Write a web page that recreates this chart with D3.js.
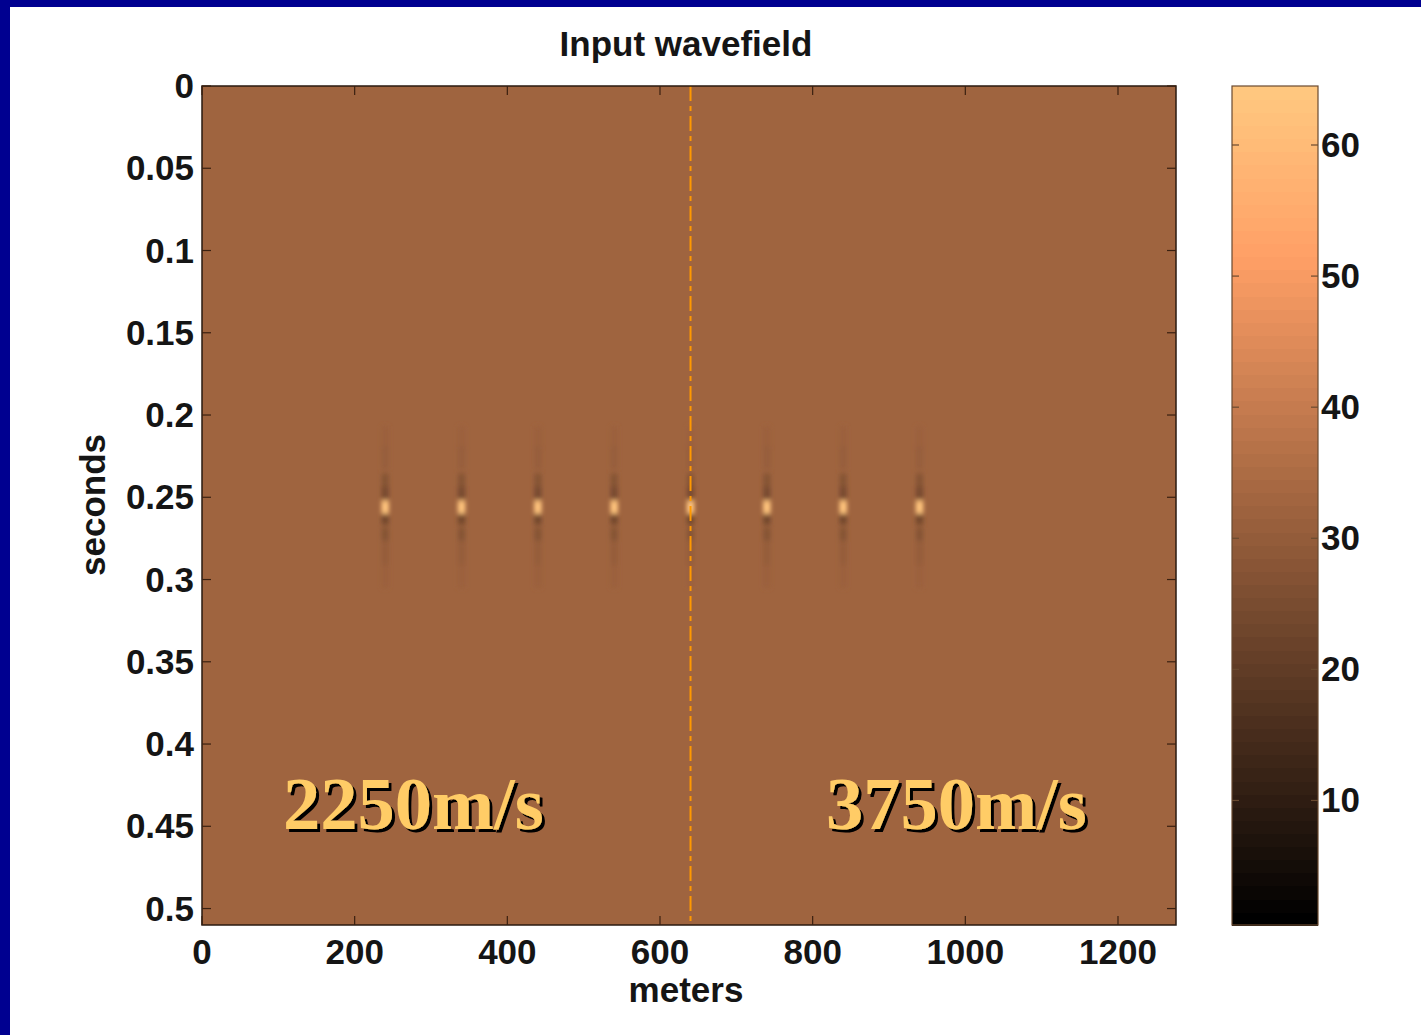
<!DOCTYPE html>
<meta charset="utf-8">
<style>
  body { margin: 0; background: #fff; }
  svg { display: block; }
</style>
<body>
<script src="https://d3js.org/d3.v7.min.js"></script>
<script>
  // axis ticks
  const xTicks = [0, 200, 400, 600, 800, 1000, 1200];
  const yTicks = [0, 0.05, 0.1, 0.15, 0.2, 0.25, 0.3, 0.35, 0.4, 0.45, 0.5];
  const cTicks = [10, 20, 30, 40, 50, 60];

  // receivers where the input spikes sit (meters) and their time (s)
  const spikeX = [240, 340, 440, 540, 640, 740, 840, 940];
  const spikeT = 0.256;
  // wavelet: time offset (s) and colour index
  const waveletDt  = [-0.042, -0.030, -0.0165, -0.0085, 0, 0.0067, 0.0165, 0.028, 0.042];
  const waveletVal = [31.6, 30.8, 27.5, 25, 63, 24, 27.5, 30.5, 31.6];
  const backgroundVal = 32.5;
  const interfaceX = 640;

  // velocity labels
  const velLabels = ["2250m/s", "3750m/s"];
  const velLabelX = [283, 826];

  const W = 1421, H = 1035;
  const plot = {left: 202, top: 86, right: 1176, bottom: 925};

  const svg = d3.select("body").append("svg")
      .attr("width", W).attr("height", H);

  // copper colormap, 64 entries like matlab
  function copper(v) {
    const t = Math.max(0, Math.min(1, (v - 1) / 63));
    return d3.rgb(Math.min(255, 1.25 * t * 255), 0.7812 * t * 255, 0.4975 * t * 255);
  }

  const x = d3.scaleLinear().domain([0, 1276]).range([plot.left, plot.right]);
  const y = d3.scaleLinear().domain([0, 0.51]).range([plot.top, plot.bottom]);

  const defs = svg.append("defs");
  defs.append("filter").attr("id", "soft")
      .attr("x", "-100%").attr("y", "-50%").attr("width", "300%").attr("height", "200%")
    .append("feGaussianBlur").attr("stdDeviation", "2 2.4");
  defs.append("filter").attr("id", "shadow")
      .attr("x", "-5%").attr("y", "-10%").attr("width", "110%").attr("height", "130%")
    .append("feDropShadow").attr("dx", 3).attr("dy", 3).attr("stdDeviation", 0.6)
      .attr("flood-color", "#000").attr("flood-opacity", 1);
  defs.append("clipPath").attr("id", "clip").append("rect")
      .attr("x", plot.left).attr("y", plot.top)
      .attr("width", plot.right - plot.left).attr("height", plot.bottom - plot.top);

  // blue slide border (top and left)
  svg.append("rect").attr("x", 0).attr("y", 0).attr("width", W).attr("height", 7).attr("fill", "#000090");
  svg.append("rect").attr("x", 0).attr("y", 0).attr("width", 10).attr("height", H).attr("fill", "#000090");

  // image
  const img = svg.append("g").attr("clip-path", "url(#clip)");
  img.append("rect")
      .attr("x", x(0)).attr("y", y(0))
      .attr("width", x(1276) - x(0)).attr("height", y(0.51) - y(0))
      .attr("fill", copper(backgroundVal));

  const cells = [];
  spikeX.forEach(sx => waveletDt.forEach((dt, i) => {
    cells.push({x: sx, t: spikeT + dt, v: waveletVal[i]});
  }));
  // far samples first so the core stays on top
  cells.sort((a, b) => Math.abs(b.t - spikeT) - Math.abs(a.t - spikeT));
  const isFar = d => Math.abs(d.t - spikeT) > 0.025;

  img.append("g").attr("filter", "url(#soft)")
    .selectAll("rect").data(cells).join("rect")
      .attr("x", d => x(d.x - 5))
      .attr("width", x(10) - x(0))
      .attr("y", d => y(d.t - (isFar(d) ? 0.007 : 0.004)))
      .attr("height", d => y(isFar(d) ? 0.014 : 0.008) - y(0))
      .attr("fill", d => copper(d.v));

  // interface between the two velocities
  img.append("line")
      .attr("x1", x(interfaceX)).attr("x2", x(interfaceX))
      .attr("y1", y(0)).attr("y2", y(0.51))
      .attr("stroke", "#ff9900").attr("stroke-width", 2)
      .attr("stroke-dasharray", "15,5,5,5");

  // frame
  svg.append("rect")
      .attr("x", plot.left).attr("y", plot.top)
      .attr("width", plot.right - plot.left).attr("height", plot.bottom - plot.top)
      .attr("fill", "none").attr("stroke", "#2a1a10").attr("stroke-width", 1.5);

  const tickFont = "'Liberation Sans', Arial, sans-serif";

  // x ticks (inside, bottom and top)
  const gx = svg.append("g");
  gx.selectAll("line.b").data(xTicks).join("line").attr("class", "b")
      .attr("x1", d => x(d)).attr("x2", d => x(d))
      .attr("y1", plot.bottom).attr("y2", plot.bottom - 9)
      .attr("stroke", "#3a2010").attr("stroke-width", 1.2);
  gx.selectAll("line.t").data(xTicks).join("line").attr("class", "t")
      .attr("x1", d => x(d)).attr("x2", d => x(d))
      .attr("y1", plot.top).attr("y2", plot.top + 9)
      .attr("stroke", "#3a2010").attr("stroke-width", 1.2);
  gx.selectAll("text").data(xTicks).join("text")
      .attr("x", d => x(d)).attr("y", 964)
      .attr("text-anchor", "middle")
      .style("font", `bold 35px ${tickFont}`).attr("fill", "#151515")
      .text(d => d);

  // y ticks
  const gy = svg.append("g");
  gy.selectAll("line.l").data(yTicks).join("line").attr("class", "l")
      .attr("x1", plot.left).attr("x2", plot.left + 9)
      .attr("y1", d => y(d)).attr("y2", d => y(d))
      .attr("stroke", "#3a2010").attr("stroke-width", 1.2);
  gy.selectAll("line.r").data(yTicks).join("line").attr("class", "r")
      .attr("x1", plot.right).attr("x2", plot.right - 9)
      .attr("y1", d => y(d)).attr("y2", d => y(d))
      .attr("stroke", "#3a2010").attr("stroke-width", 1.2);
  gy.selectAll("text").data(yTicks).join("text")
      .attr("x", 194).attr("y", d => y(d) + 12)
      .attr("text-anchor", "end")
      .style("font", `bold 35px ${tickFont}`).attr("fill", "#151515")
      .text(d => String(+d.toFixed(2)));

  // titles
  svg.append("text").attr("x", 686).attr("y", 56).attr("text-anchor", "middle")
      .style("font", `bold 35px ${tickFont}`).attr("fill", "#151515")
      .text("Input wavefield");
  svg.append("text").attr("x", 686).attr("y", 1002).attr("text-anchor", "middle")
      .style("font", `bold 35px ${tickFont}`).attr("fill", "#151515")
      .text("meters");
  svg.append("text").attr("transform", "translate(105,505) rotate(-90)")
      .attr("text-anchor", "middle")
      .style("font", `bold 35px ${tickFont}`).attr("fill", "#151515")
      .text("seconds");

  // velocity labels with drop shadow
  svg.append("g").selectAll("text").data(velLabels).join("text")
      .attr("x", (d, i) => velLabelX[i]).attr("y", 829)
      .style("font", "bold 74.5px 'Liberation Serif', 'Times New Roman', serif")
      .attr("fill", "#ffcc66").attr("filter", "url(#shadow)")
      .text(d => d);

  // colorbar
  const cb = {left: 1232, right: 1318};
  const c = d3.scaleLinear().domain([0.5, 64.5]).range([plot.bottom, plot.top]);
  const levels = d3.range(1, 65);
  svg.append("g").attr("shape-rendering", "crispEdges")
    .selectAll("rect").data(levels).join("rect")
      .attr("x", cb.left).attr("width", cb.right - cb.left)
      .attr("y", d => c(d + 0.5)).attr("height", c(0) - c(1) + 0.8)
      .attr("fill", d => copper(d));
  svg.append("rect")
      .attr("x", cb.left).attr("y", plot.top)
      .attr("width", cb.right - cb.left).attr("height", plot.bottom - plot.top)
      .attr("fill", "none").attr("stroke", "#6a4a30").attr("stroke-width", 1.2);
  const gc = svg.append("g");
  gc.selectAll("line.l").data(cTicks).join("line").attr("class", "l")
      .attr("x1", cb.left).attr("x2", cb.left + 7)
      .attr("y1", d => c(d)).attr("y2", d => c(d))
      .attr("stroke", "#6a4a30").attr("stroke-width", 1.2);
  gc.selectAll("line.r").data(cTicks).join("line").attr("class", "r")
      .attr("x1", cb.right).attr("x2", cb.right - 7)
      .attr("y1", d => c(d)).attr("y2", d => c(d))
      .attr("stroke", "#6a4a30").attr("stroke-width", 1.2);
  gc.selectAll("text").data(cTicks).join("text")
      .attr("x", 1321).attr("y", d => c(d) + 12)
      .style("font", `bold 35px ${tickFont}`).attr("fill", "#151515")
      .text(d => d);
</script>
</body>
